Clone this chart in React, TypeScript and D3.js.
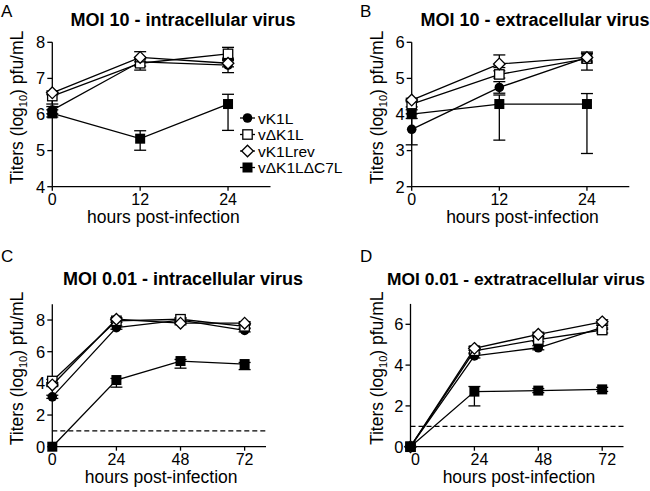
import React from "react";
import * as d3 from "d3";

// ---- data ----
const seriesNames = ["vK1L", "v\u0394K1L", "vK1Lrev", "v\u0394K1L\u0394C7L"];
const markerKinds = ["circle", "squareOpen", "diamond", "squareFilled"];

const timesMOI10 = [0, 12, 24];
const timesMOI001 = [0, 24, 48, 72];

// Panel A: MOI 10 intracellular
const A_vals = [
  [6.12, 7.46, 7.37],
  [6.51, 7.42, 7.68],
  [6.6, 7.58, 7.42],
  [6.03, 5.33, 6.29],
];
const A_errLo = [
  [0.1, 0.12, 0.21],
  [0.22, 0.19, 0.12],
  [0.05, 0.12, 0.1],
  [0.1, 0.32, 0.73],
];
const A_errHi = [
  [0.1, 0.12, 0.12],
  [0.1, 0.12, 0.18],
  [0.05, 0.16, 0.1],
  [0.1, 0.22, 0.27],
];

// Panel B: MOI 10 extracellular
const B_vals = [
  [3.59, 4.75, 5.58],
  [4.29, 5.11, 5.55],
  [4.4, 5.4, 5.58],
  [4.01, 4.29, 4.29],
];
const B_errLo = [
  [0.43, 0.16, 0.15],
  [0.08, 0.1, 0.32],
  [0.05, 0.1, 0.1],
  [0.12, 1.0, 1.37],
];
const B_errHi = [
  [0.43, 0.16, 0.15],
  [0.08, 0.1, 0.15],
  [0.05, 0.25, 0.1],
  [0.12, 0.25, 0.29],
];

// Panel C: MOI 0.01 intracellular
const C_vals = [
  [3.15, 7.52, 8.0, 7.35],
  [4.15, 7.95, 8.05, 7.6],
  [3.9, 8.05, 7.8, 7.8],
  [0, 4.21, 5.41, 5.22],
];
const C_errLo = [
  [0.1, 0.1, 0.1, 0.1],
  [0.1, 0.1, 0.1, 0.1],
  [0.1, 0.1, 0.1, 0.1],
  [0, 0.45, 0.45, 0.35],
];
const C_errHi = [
  [0.1, 0.1, 0.1, 0.1],
  [0.1, 0.1, 0.1, 0.1],
  [0.1, 0.1, 0.1, 0.1],
  [0, 0.1, 0.1, 0.1],
];

// Panel D: MOI 0.01 extracellular
const D_vals = [
  [0, 4.45, 4.85, 5.85],
  [0, 4.7, 5.25, 5.72],
  [0, 4.82, 5.51, 6.12],
  [0, 2.7, 2.75, 2.81],
];
const D_errLo = [
  [0, 0.1, 0.1, 0.1],
  [0, 0.1, 0.1, 0.15],
  [0, 0.1, 0.1, 0.1],
  [0, 0.7, 0.1, 0.1],
];
const D_errHi = [
  [0, 0.1, 0.1, 0.1],
  [0, 0.1, 0.1, 0.1],
  [0, 0.1, 0.1, 0.1],
  [0, 0.25, 0.1, 0.1],
];

const detectionLimit = 1;

const FONT = "'Liberation Sans', Arial, Helvetica, sans-serif";

type PanelCfg = {
  letter: string;
  letterX: number;
  letterY: number;
  title: string;
  titleX: number;
  titleY: number;
  titleSize: number;
  x0: number;
  x1: number;
  xDomain: [number, number];
  yBottom: number;
  yTop: number;
  yDomain: [number, number];
  yTicks: number[];
  xTicks: number[];
  times: number[];
  vals: number[][];
  errLo: number[][];
  errHi: number[][];
  dashed: boolean;
  tickLabelDx: number;
  yLabelX: number;
  legend?: boolean;
};

function Marker({ kind, x, y }: { kind: string; x: number; y: number }) {
  const sw = 1.3;
  if (kind === "circle") return <circle cx={x} cy={y} r={4.8} fill="#000" />;
  if (kind === "squareOpen")
    return <rect x={x - 4.7} y={y - 4.7} width={9.4} height={9.4} fill="#fff" stroke="#000" strokeWidth={sw} />;
  if (kind === "squareFilled")
    return <rect x={x - 5} y={y - 5} width={10} height={10} fill="#000" />;
  const r = 5.8;
  return (
    <path
      d={`M${x},${y - r}L${x + r},${y}L${x},${y + r}L${x - r},${y}Z`}
      fill="#fff"
      stroke="#000"
      strokeWidth={sw}
    />
  );
}

function Panel({ cfg }: { cfg: PanelCfg }) {
  const xs = d3.scaleLinear().domain(cfg.xDomain).range([cfg.x0, cfg.x1]);
  const ys = d3.scaleLinear().domain(cfg.yDomain).range([cfg.yBottom, cfg.yTop]);
  const line = d3
    .line<number>()
    .x((_, i) => xs(cfg.times[i]))
    .y((v) => ys(v));
  const capW = 6;
  const xAxisY = cfg.yBottom;
  const yMid = (cfg.yBottom + cfg.yTop) / 2;
  return (
    <g fontFamily={FONT}>
      <text x={cfg.letterX} y={cfg.letterY} fontSize={17}>
        {cfg.letter}
      </text>
      <text x={cfg.titleX} y={cfg.titleY} fontSize={cfg.titleSize} fontWeight="bold" textAnchor="middle">
        {cfg.title}
      </text>
      {/* y axis */}
      <line x1={cfg.x0} x2={cfg.x0} y1={cfg.yTop} y2={xAxisY} stroke="#000" strokeWidth={1.3} />
      {cfg.yTicks.map((t) => (
        <g key={"yt" + t}>
          <line x1={cfg.x0 - 5} x2={cfg.x0} y1={ys(t)} y2={ys(t)} stroke="#000" strokeWidth={1.3} />
          <text x={cfg.x0 - 7} y={ys(t) + 5.8} fontSize={16.5} textAnchor="end">
            {t}
          </text>
        </g>
      ))}
      {/* x axis */}
      <line x1={cfg.x0} x2={cfg.x1} y1={xAxisY} y2={xAxisY} stroke="#000" strokeWidth={1.3} />
      {cfg.xTicks.map((t) => (
        <g key={"xt" + t}>
          <line x1={xs(t)} x2={xs(t)} y1={xAxisY} y2={xAxisY + 4} stroke="#000" strokeWidth={1.3} />
          <text x={xs(t) + cfg.tickLabelDx} y={xAxisY + 18} fontSize={16} textAnchor="middle">
            {t}
          </text>
        </g>
      ))}
      <text x={(cfg.x0 + cfg.x1) / 2 + 2} y={xAxisY + 36.5} fontSize={17.5} textAnchor="middle">
        hours post-infection
      </text>
      <text
        transform={`translate(${cfg.yLabelX},${yMid - 7}) rotate(-90)`}
        fontSize={17.5}
        textAnchor="middle"
      >
        Titers (log
        <tspan fontSize={11} dy={4}>
          10
        </tspan>
        <tspan dy={-4}>) pfu/mL</tspan>
      </text>
      {cfg.dashed && (
        <line
          x1={cfg.x0}
          x2={cfg.x1}
          y1={ys(detectionLimit)}
          y2={ys(detectionLimit)}
          stroke="#000"
          strokeWidth={1.2}
          strokeDasharray="5,3"
        />
      )}
      {cfg.vals.map((series, si) => (
        <g key={"s" + si}>
          {series.map((v, i) => {
            const lo = cfg.errLo[si][i];
            const hi = cfg.errHi[si][i];
            if (lo === 0 && hi === 0) return null;
            const x = xs(cfg.times[i]);
            return (
              <g key={"e" + i} stroke="#000" strokeWidth={1.3}>
                <line x1={x} x2={x} y1={ys(v - lo)} y2={ys(v + hi)} />
                <line x1={x - capW} x2={x + capW} y1={ys(v - lo)} y2={ys(v - lo)} />
                <line x1={x - capW} x2={x + capW} y1={ys(v + hi)} y2={ys(v + hi)} />
              </g>
            );
          })}
          <path d={line(series) || ""} fill="none" stroke="#000" strokeWidth={1.3} />
          {series.map((v, i) => (
            <Marker key={"m" + i} kind={markerKinds[si]} x={xs(cfg.times[i])} y={ys(v)} />
          ))}
        </g>
      ))}
      {cfg.legend &&
        seriesNames.map((name, i) => {
          const cy = 118 + i * 16.5;
          return (
            <g key={"lg" + i}>
              <line x1={240} x2={255} y1={cy} y2={cy} stroke="#000" strokeWidth={1.3} />
              <Marker kind={markerKinds[i]} x={247.5} y={cy} />
              <text x={258} y={cy + 5.5} fontSize={15.5}>
                {name}
              </text>
            </g>
          );
        })}
    </g>
  );
}

const panels: PanelCfg[] = [
  {
    letter: "A", letterX: 1, letterY: 17,
    title: "MOI 10 - intracellular virus", titleX: 183, titleY: 26, titleSize: 18,
    x0: 52.3, x1: 270.5, xDomain: [0, 29.8],
    yBottom: 186.7, yTop: 42.3, yDomain: [4, 8],
    yTicks: [4, 5, 6, 7, 8], xTicks: timesMOI10, times: timesMOI10,
    vals: A_vals, errLo: A_errLo, errHi: A_errHi, dashed: false, tickLabelDx: 0,
    yLabelX: 23, legend: true,
  },
  {
    letter: "B", letterX: 360, letterY: 17,
    title: "MOI 10 - extracellular virus", titleX: 535, titleY: 26, titleSize: 18,
    x0: 411.7, x1: 629.3, xDomain: [0, 29.8],
    yBottom: 186.7, yTop: 42.3, yDomain: [2, 6],
    yTicks: [2, 3, 4, 5, 6], xTicks: timesMOI10, times: timesMOI10,
    vals: B_vals, errLo: B_errLo, errHi: B_errHi, dashed: false, tickLabelDx: 0,
    yLabelX: 383,
  },
  {
    letter: "C", letterX: 1, letterY: 262,
    title: "MOI 0.01 - intracellular virus", titleX: 183, titleY: 285, titleSize: 18,
    x0: 52.3, x1: 266, xDomain: [0, 80],
    yBottom: 446.7, yTop: 304.2, yDomain: [0, 9],
    yTicks: [0, 2, 4, 6, 8], xTicks: timesMOI001, times: timesMOI001,
    vals: C_vals, errLo: C_errLo, errHi: C_errHi, dashed: true, tickLabelDx: 0,
    yLabelX: 23,
  },
  {
    letter: "D", letterX: 360, letterY: 262,
    title: "MOI 0.01 - extratracellular virus", titleX: 516, titleY: 285, titleSize: 17.4,
    x0: 410.5, x1: 623.5, xDomain: [0, 80],
    yBottom: 446.7, yTop: 303.9, yDomain: [0, 7],
    yTicks: [0, 2, 4, 6], xTicks: timesMOI001, times: timesMOI001,
    vals: D_vals, errLo: D_errLo, errHi: D_errHi, dashed: true, tickLabelDx: 5,
    yLabelX: 383,
  },
];

export default function App() {
  return (
    <svg
      width={650}
      height={491}
      viewBox="0 0 650 491"
      style={{ position: "absolute", left: 0, top: 0, background: "#fff" }}
    >
      <rect width={650} height={491} fill="#fff" />
      {panels.map((p) => (
        <Panel key={p.letter} cfg={p} />
      ))}
    </svg>
  );
}
